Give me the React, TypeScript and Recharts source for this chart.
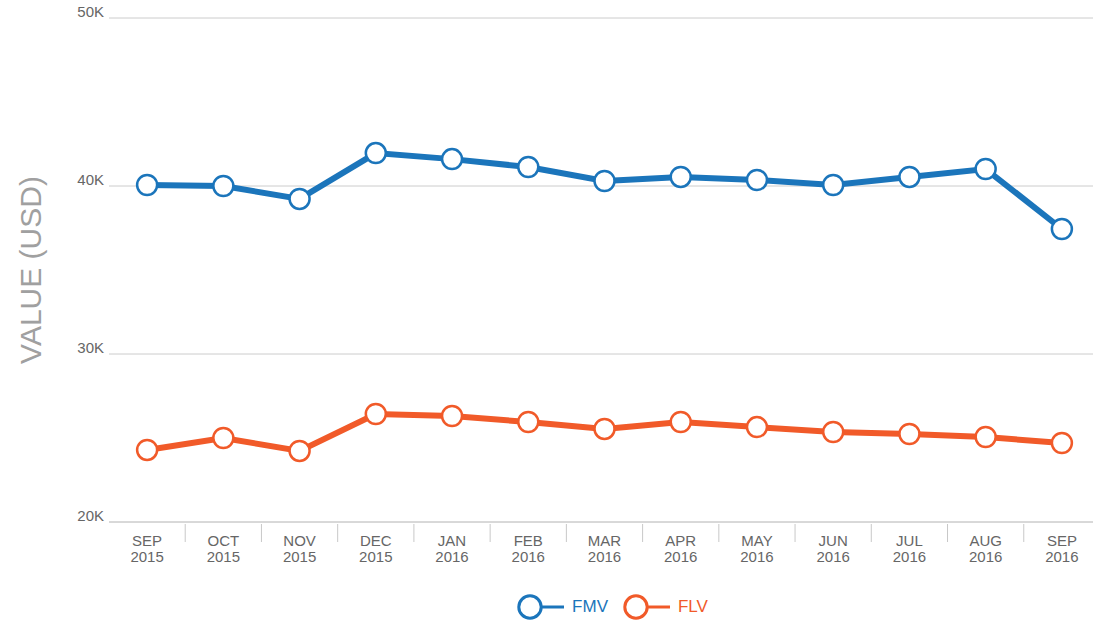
import React from "react";
import { LineChart, Line, XAxis, YAxis, CartesianGrid, Legend } from "recharts";

const months = ["SEP", "OCT", "NOV", "DEC", "JAN", "FEB", "MAR", "APR", "MAY", "JUN", "JUL", "AUG", "SEP"];
const years = ["2015", "2015", "2015", "2015", "2016", "2016", "2016", "2016", "2016", "2016", "2016", "2016", "2016"];
const fmv = [40060, 40000, 39230, 41960, 41600, 41130, 40300, 40540, 40360, 40060, 40540, 41010, 37440];
const flv = [24290, 25000, 24230, 26430, 26310, 25950, 25540, 25950, 25650, 25360, 25240, 25060, 24700];
const yTicks = [20000, 30000, 40000, 50000];

const BLUE = "#1b75bb";
const ORANGE = "#f15a29";
const FONT = "'Liberation Sans', Arial, sans-serif";

const data = months.map((m, i) => ({ key: `${m} ${years[i]}`, month: m, year: years[i], FMV: fmv[i], FLV: flv[i] }));

function MonthTick({ x, y, payload, index }: any) {
  const half = 76.2 / 2;
  const d = data[payload.index ?? index];
  return (
    <g>
      {index < data.length - 1 && <line x1={x + half} x2={x + half} y1={y + 2} y2={y + 20} stroke="#c8c8c8" strokeWidth={1} />}
      <text x={x} y={y + 24} textAnchor="middle" fontSize={15} fill="#666" fontFamily={FONT}>
        {d?.month}
      </text>
      <text x={x} y={y + 40} textAnchor="middle" fontSize={15} fill="#666" fontFamily={FONT}>
        {d?.year}
      </text>
    </g>
  );
}

function LegendContent() {
  const items = [
    { name: "FMV", color: BLUE },
    { name: "FLV", color: ORANGE },
  ];
  return (
    <div style={{ display: "flex", justifyContent: "center", paddingTop: 22, paddingLeft: 140, fontFamily: FONT }}>
      {items.map((it) => (
        <div key={it.name} style={{ display: "flex", alignItems: "center", marginRight: 15 }}>
          <svg width={50} height={26}>
            <line x1={24} x2={47} y1={13} y2={13} stroke={it.color} strokeWidth={3} />
            <circle cx={13} cy={13} r={11.2} fill="#fff" stroke={it.color} strokeWidth={3} />
          </svg>
          <span style={{ color: it.color, fontSize: 17, marginLeft: 5 }}>{it.name}</span>
        </div>
      ))}
    </div>
  );
}

export default function App() {
  return (
    <div style={{ position: "absolute", left: 0, top: 0, width: 1093, height: 621, overflow: "hidden", background: "#fff" }}>
      <LineChart width={1100} height={621} data={data} margin={{ top: 18, right: 0, left: 0, bottom: 0 }}>
        <CartesianGrid vertical={false} stroke="#cccccc" />
        <XAxis
          dataKey="key"
          scale="band"
          interval={0}
          height={50}
          tickLine={false}
          tickSize={0}
          tickMargin={0}
          axisLine={{ stroke: "#cccccc" }}
          tick={<MonthTick />}
        />
        <YAxis
          domain={[20000, 50000]}
          ticks={yTicks}
          width={109}
          axisLine={false}
          tickLine={false}
          tickSize={0}
          tickMargin={5}
          tickFormatter={(v: number) => `${v / 1000}K`}
          tick={{ fontSize: 15, fill: "#666", fontFamily: FONT, dy: -6 }}
          label={{
            value: "VALUE (USD)",
            angle: -90,
            position: "insideLeft",
            offset: 30,
            style: { textAnchor: "middle", fontSize: 30, fill: "#a0a0a0", fontFamily: FONT },
          }}
        />
        <Legend verticalAlign="bottom" height={49} content={<LegendContent />} />
        <Line
          dataKey="FMV"
          stroke={BLUE}
          strokeWidth={6}
          dot={{ r: 10, fill: "#fff", stroke: BLUE, strokeWidth: 2.5 }}
          activeDot={false}
          isAnimationActive={false}
        />
        <Line
          dataKey="FLV"
          stroke={ORANGE}
          strokeWidth={6}
          dot={{ r: 10, fill: "#fff", stroke: ORANGE, strokeWidth: 2.5 }}
          activeDot={false}
          isAnimationActive={false}
        />
      </LineChart>
    </div>
  );
}
